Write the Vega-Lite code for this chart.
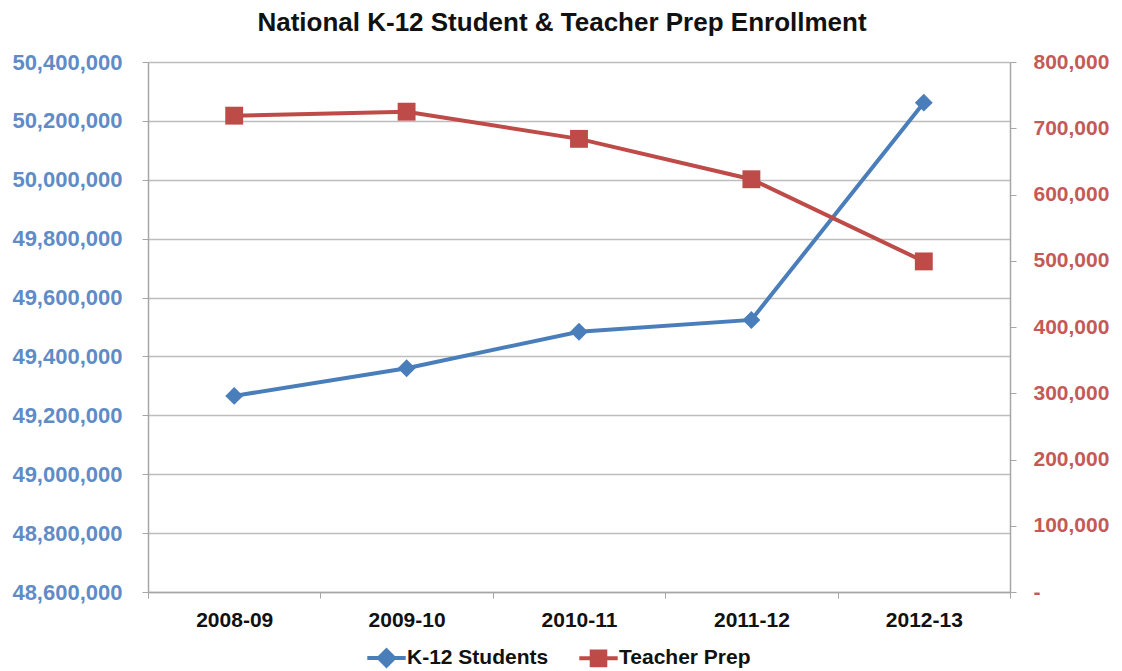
{
  "$schema": "https://vega.github.io/schema/vega-lite/v6.json",
  "width": 862,
  "height": 530,
  "autosize": {"type": "none"},
  "padding": {"left": 148, "top": 62, "right": 112, "bottom": 79},
  "background": "white",
  "title": {
    "text": "National K-12 Student & Teacher Prep Enrollment",
    "font": "Liberation Sans",
    "fontSize": 26,
    "fontWeight": "bold",
    "color": "#111111",
    "anchor": "middle",
    "offset": 15,
    "dx": -17
  },
  "data": {
    "values": [
      {"year": "2008-09", "series": "K-12 Students", "value": 49266000},
      {"year": "2009-10", "series": "K-12 Students", "value": 49360000},
      {"year": "2010-11", "series": "K-12 Students", "value": 49484000},
      {"year": "2011-12", "series": "K-12 Students", "value": 49524000},
      {"year": "2012-13", "series": "K-12 Students", "value": 50262000},
      {"year": "2008-09", "series": "Teacher Prep", "value": 719000},
      {"year": "2009-10", "series": "Teacher Prep", "value": 725000},
      {"year": "2010-11", "series": "Teacher Prep", "value": 684000},
      {"year": "2011-12", "series": "Teacher Prep", "value": 623000},
      {"year": "2012-13", "series": "Teacher Prep", "value": 499000}
    ]
  },
  "encoding": {
    "x": {
      "field": "year",
      "type": "ordinal",
      "scale": {"type": "band", "paddingInner": 0, "paddingOuter": 0},
      "axis": {
        "title": null,
        "labelAngle": 0,
        "labelFont": "Liberation Sans",
        "labelFontSize": 21,
        "labelFontWeight": "bold",
        "labelColor": "#111111",
        "labelPadding": 11,
        "tickBand": "extent",
        "tickSize": 6,
        "tickColor": "#a6a6a6",
        "domainColor": "#a6a6a6",
        "domainWidth": 1.5,
        "grid": false
      }
    },
    "color": {
      "field": "series",
      "type": "nominal",
      "scale": {"domain": ["K-12 Students", "Teacher Prep"], "range": ["#4a7ebb", "#be4b48"]},
      "legend": {
        "title": null,
        "orient": "none",
        "direction": "horizontal",
        "legendX": 228,
        "legendY": 585,
        "padding": 0,
        "symbolSize": 256,
        "symbolStrokeWidth": 4,
        "labelOffset": 10,
        "columnPadding": 22,
        "labelFont": "Liberation Sans",
        "labelFontSize": 21,
        "labelFontWeight": "bold",
        "labelColor": "#111111",
        "encode": {
          "symbols": {
            "update": {
              "shape": {"signal": "datum.value === 'K-12 Students' ? 'M-2.4,0H2.4M0,-0.95L0.95,0L0,0.95L-0.95,0Z' : 'M-2.4,0H2.4M-0.85,-0.85H0.85V0.85H-0.85Z'"},
              "fill": {"scale": "color", "field": "value"},
              "stroke": {"scale": "color", "field": "value"},
              "strokeWidth": {"value": 4},
              "opacity": {"value": 1},
              "fillOpacity": {"value": 1}
            }
          }
        }
      }
    }
  },
  "layer": [
    {
      "transform": [{"filter": "datum.series === 'K-12 Students'"}],
      "encoding": {
        "y": {
          "field": "value",
          "type": "quantitative",
          "scale": {"domain": [48600000, 50400000], "nice": false, "zero": false},
          "axis": {
            "title": null,
            "orient": "left",
            "values": [48600000, 48800000, 49000000, 49200000, 49400000, 49600000, 49800000, 50000000, 50200000, 50400000],
            "labelExpr": "format(datum.value, ',')",
            "labelFont": "Liberation Sans",
            "labelFontSize": 22,
            "labelFontWeight": "bold",
            "labelColor": "#5f8cc6",
            "labelPadding": 20,
            "tickSize": 6,
            "tickColor": "#a6a6a6",
            "domainColor": "#a6a6a6",
            "domainWidth": 1.5,
            "grid": true,
            "gridColor": "#bdbdbd",
            "gridWidth": 1.5
          }
        }
      },
      "layer": [
        {"mark": {"type": "line", "strokeWidth": 4}},
        {"mark": {"type": "point", "shape": "diamond", "filled": true, "size": 320, "opacity": 1}}
      ]
    },
    {
      "transform": [{"filter": "datum.series === 'Teacher Prep'"}],
      "encoding": {
        "y": {
          "field": "value",
          "type": "quantitative",
          "scale": {"domain": [0, 800000], "nice": false},
          "axis": {
            "title": null,
            "orient": "right",
            "values": [0, 100000, 200000, 300000, 400000, 500000, 600000, 700000, 800000],
            "labelExpr": "datum.value === 0 ? '-' : format(datum.value, ',')",
            "labelFont": "Liberation Sans",
            "labelFontSize": 21,
            "labelFontWeight": "bold",
            "labelColor": "#c45a57",
            "labelPadding": 17,
            "tickSize": 6,
            "tickColor": "#a6a6a6",
            "domainColor": "#a6a6a6",
            "domainWidth": 1.5,
            "grid": false
          }
        }
      },
      "layer": [
        {"mark": {"type": "line", "strokeWidth": 4}},
        {"mark": {"type": "point", "shape": "square", "filled": true, "size": 320, "opacity": 1}}
      ]
    }
  ],
  "resolve": {"scale": {"y": "independent"}},
  "config": {"view": {"stroke": null}}
}
